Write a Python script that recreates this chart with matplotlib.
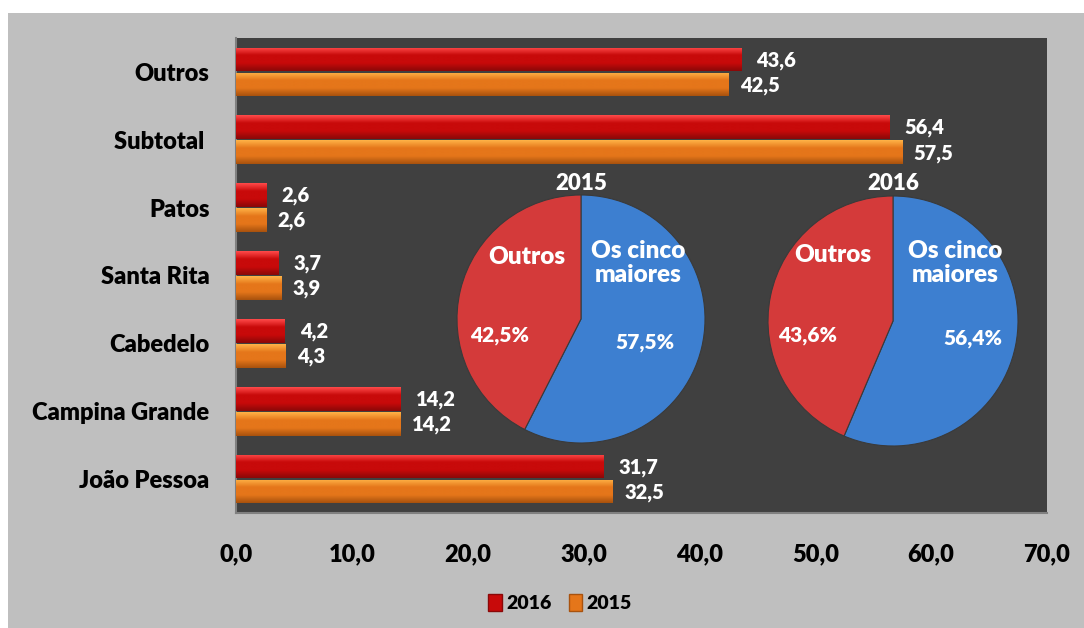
import numpy as np
import matplotlib
matplotlib.use("Agg")
import matplotlib.pyplot as plt
from matplotlib.patches import Rectangle

plt.rcParams['font.family'] = ['Lato', 'DejaVu Sans']
BW = "heavy"
plt.rcParams['font.weight'] = BW

categories = ["Outros", "Subtotal ", "Patos", "Santa Rita", "Cabedelo",
              "Campina Grande", "João Pessoa"]
v2016 = [43.6, 56.4, 2.6, 3.7, 4.2, 14.2, 31.7]
v2015 = [42.5, 57.5, 2.6, 3.9, 4.3, 14.2, 32.5]
xticks = [0, 10, 20, 30, 40, 50, 60, 70]

pie_labels = ["Os cinco\nmaiores", "Outros"]
pie2015 = [57.5, 42.5]
pie2016 = [56.4, 43.6]

W, H = 1084, 628
fig = plt.figure(figsize=(W / 100, H / 100), dpi=100, facecolor="white")
fig.patches.append(Rectangle((8 / W, 0), 1, 1 - 13 / H, transform=fig.transFigure,
                             facecolor="#bfbfbf", edgecolor="none", zorder=-10))

ax = fig.add_axes([236 / W, 1 - 513 / H, (1047 - 236) / W, (513 - 38) / H])
ax.set_facecolor("#404040")

y = np.arange(len(categories))
h = 0.35
b16 = ax.barh(y - h / 2 - 0.01, v2016, height=h, color="#c80a0a", zorder=2)
b15 = ax.barh(y + h / 2 + 0.01, v2015, height=h, color="#e5761a", zorder=2)


def shade(bars, top, mid, bot):
    cmap = matplotlib.colors.LinearSegmentedColormap.from_list("g", [top, mid, mid, bot])
    grad = np.linspace(0, 1, 64).reshape(-1, 1)
    for p in bars:
        x0, y0 = p.get_x(), p.get_y()
        w, hh = p.get_width(), p.get_height()
        im = ax.imshow(grad, cmap=cmap, aspect="auto", zorder=3,
                       extent=[x0, x0 + w, y0 + hh, y0], origin="upper")
        im.set_clip_path(p)


shade(b16, "#ff4a4a", "#c80a0a", "#8a0808")
shade(b15, "#ffb347", "#e5761a", "#a8520e")

for i in range(len(categories)):
    ax.text(v2016[i] + 1.3, y[i] - h / 2, f"{v2016[i]:.1f}".replace(".", ","),
            color="white", fontsize=14.5, fontweight=BW, va="center", zorder=5)
    ax.text(v2015[i] + 1.0, y[i] + h / 2 + 0.02, f"{v2015[i]:.1f}".replace(".", ","),
            color="white", fontsize=14.5, fontweight=BW, va="center", zorder=5)

ax.set_xlim(0, 70)
ax.set_ylim(len(categories) - 0.5, -0.5)
ax.set_xticks(xticks)
ax.set_xticklabels([f"{t:.1f}".replace(".", ",") for t in xticks],
                   fontsize=17, fontweight=BW)
ax.set_yticks(y)
ax.set_yticklabels(categories, fontsize=17, fontweight=BW)
ax.tick_params(axis="x", length=0, pad=22)
ax.tick_params(axis="y", length=0, pad=19)
for s in ["top", "right"]:
    ax.spines[s].set_visible(False)
for s in ["left", "bottom"]:
    ax.spines[s].set_color("#808080")
    ax.spines[s].set_linewidth(1.5)

leg_h = [Rectangle((0, 0), 1, 1, facecolor="#c80a0a", edgecolor="#8a0808"),
         Rectangle((0, 0), 1, 1, facecolor="#e5761a", edgecolor="#a8520e")]
fig.legend(leg_h, ["2016", "2015"], loc="center", bbox_to_anchor=(560 / W, 1 - 603 / H),
           ncol=2, frameon=False, handlelength=0.7, handleheight=1.0,
           handletextpad=0.2, columnspacing=0.9, prop={"weight": BW, "size": 14})


def draw_pie(cx, cy, r, vals, year, pos_name, pos_pct):
    pax = fig.add_axes([(cx - r) / W, 1 - (cy + r) / H, 2 * r / W, 2 * r / H])
    pax.pie(vals, colors=["#3d7fd0", "#d43a3a"], startangle=90, counterclock=False,
            wedgeprops={"edgecolor": "#3a3a3a", "linewidth": 0.8})
    pax.set_xlim(-1, 1)
    pax.set_ylim(-1, 1)
    pax.set_aspect("auto")
    pax.axis("off")
    fig.text(cx / W, 1 - (cy - r - 12) / H, year, color="white", fontsize=16,
             fontweight=BW, ha="center", va="center")
    for lab, (x, yy) in zip(pie_labels, pos_name):
        fig.text(x / W, 1 - yy / H, lab, color="white", fontsize=17.5, fontweight=BW,
                 ha="center", va="center", linespacing=1.15)
    for v, (x, yy) in zip(vals, pos_pct):
        fig.text(x / W, 1 - yy / H, f"{v:.1f}%".replace(".", ","), color="white",
                 fontsize=15, fontweight=BW, ha="center", va="center")


draw_pie(581, 319, 124, pie2015, "2015", [(638, 263), (527, 257)], [(645, 342), (500, 335)])
draw_pie(893, 321, 125, pie2016, "2016", [(955, 263), (833, 255)], [(973, 338), (808, 335)])

fig.savefig("out.png", dpi=100, facecolor=fig.get_facecolor())
